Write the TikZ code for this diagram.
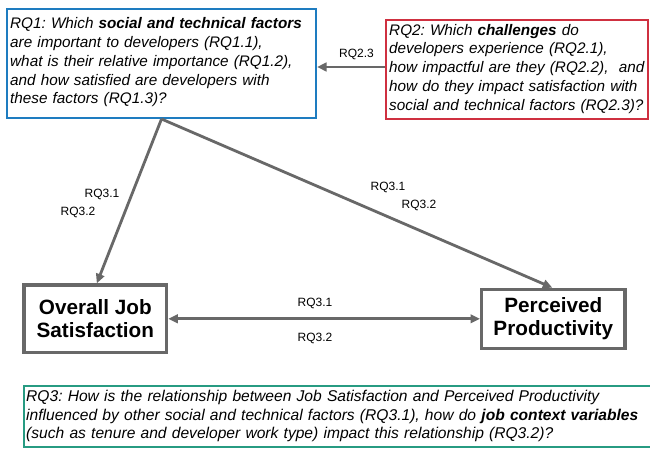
\documentclass[tikz,border=0pt]{standalone}
\usepackage{fontspec}
\setmainfont{Liberation Sans}
\usetikzlibrary{arrows.meta}
\definecolor{cblue}{HTML}{1E7CC0}
\definecolor{cred}{HTML}{CF3040}
\definecolor{cgreen}{HTML}{279B82}
\definecolor{cgray}{HTML}{686868}
\frenchspacing
\tikzset{
  frame/.style={draw, line width=2pt, rectangle, inner sep=0pt},
  qtext/.style={anchor=north west, inner sep=0pt, align=left,
    font=\fontsize{15.3}{18.8}\selectfont\itshape\frenchspacing},
  vbox/.style={draw=cgray, line width=3.2pt, rectangle, align=center, fill=white,
    font=\fontsize{20.7}{23.4}\selectfont\bfseries},
  conn/.style={draw=cgray, line width=2.8pt, -{Triangle[length=9.5pt,width=8.5pt]}},
  lab/.style={font=\fontsize{12}{14}\selectfont, inner sep=1pt}
}
\newcommand{\firststrut}{\rule{0pt}{12pt}}
\begin{document}
\begin{tikzpicture}[x=1pt,y=-1pt]
\useasboundingbox (0,0) rectangle (650,449);
\clip (0,0) rectangle (650,449);
\fill[white] (0,0) rectangle (650,449);

% RQ1 box
\node[frame, draw=cblue, minimum width=309pt, minimum height=108.5pt] (rq1) at (161.5,63.75) {};
\node[qtext, text width=302pt] (rq1t) at (10,16.5)
 {\firststrut RQ1: Which \textbf{social and technical factors}\\
  are important to developers (RQ1.1),\\
  what is their relative importance (RQ1.2),\\
  and how satisfied are developers with\\
  these factors (RQ1.3)?};

% RQ2 box
\node[frame, draw=cred, minimum width=262pt, minimum height=99pt] (rq2) at (517,70) {};
\node[qtext, text width=258pt] (rq2t) at (389,23)
 {\firststrut RQ2: Which \textbf{challenges} do\\
  developers experience (RQ2.1),\\
  how impactful are they (RQ2.2),\ \ and\\
  how do they impact satisfaction with\\
  social and technical factors (RQ2.3)?};

% outcome boxes
\node[vbox, minimum width=142.7pt, minimum height=67.7pt] (ojs) at (95.3,318.8) {Overall Job\\Satisfaction};
\node[vbox, minimum width=143.3pt, minimum height=59pt] (pp) at (553.3,318.8) {Perceived\\Productivity};

% connectors
\draw[conn] ([yshift=3pt]rq2.west) -- ([yshift=3pt]rq2.west -| rq1.east);
\node[lab] (l23) at (356.5,54.5) {RQ2.3};
\draw[conn] (rq1.south) -- ([xshift=1.5pt]ojs.north);
\draw[conn] (rq1.south) -- ([xshift=-1pt]pp.north);
\draw[conn, {Triangle[length=9.5pt,width=8.5pt]}-{Triangle[length=9.5pt,width=8.5pt]}] (ojs.east) -- (pp.west);

\node[lab] (la1) at (102,194) {RQ3.1};
\node[lab] (la2) at (78,212) {RQ3.2};
\node[lab] (lb1) at (388,187) {RQ3.1};
\node[lab] (lb2) at (419,205) {RQ3.2};
\node[lab] (lc1) at (315,303) {RQ3.1};
\node[lab] (lc2) at (315,338) {RQ3.2};

% RQ3 box
\draw[cgreen, line width=2pt] (660,386) -| (24,447) -- (660,447);
\node[qtext, text width=624pt, font=\fontsize{15.6}{18.3}\selectfont\itshape\frenchspacing] (rq3) at (26,389.7)
 {\firststrut RQ3: How is the relationship between Job Satisfaction and Perceived Productivity\\
  influenced by other social and technical factors (RQ3.1), how do \textbf{job context variables}\\
  (such as tenure and developer work type) impact this relationship (RQ3.2)?};
\end{tikzpicture}
\end{document}
